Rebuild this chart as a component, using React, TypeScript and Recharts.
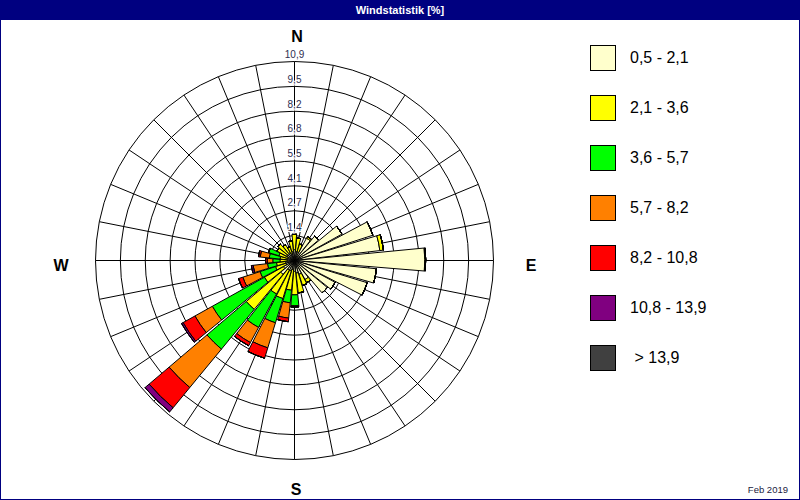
import { RadialBarChart, RadialBar, PolarGrid, PolarAngleAxis, PolarRadiusAxis } from "recharts";

// 32 directions, clockwise from north
const DIRECTIONS = [
  "N", "NzO", "NNO", "NOzN", "NO", "NOzO", "ONO", "OzN",
  "O", "OzS", "OSO", "SOzO", "SO", "SOzS", "SSO", "SzO",
  "S", "SzW", "SSW", "SWzS", "SW", "SWzW", "WSW", "WzS",
  "W", "WzN", "WNW", "NWzW", "NW", "NWzN", "NNW", "NzW",
];

// share of time [%] per speed class
const CLASS_1 = [0.6, 0.5, 0.5, 1.4, 1.75, 3.0, 4.55, 4.75, 7.2, 4.55, 4.2, 2.55, 2.35, 1.2, 0.8, 0.7, 0.6, 0.5, 0.6, 0.6, 1.0, 0.7, 0.5, 0.5, 0.4, 0.4, 0.4, 0.5, 0.5, 0.5, 0.4, 0.5];
const CLASS_2 = [0.85, 0.75, 0.45, 0.1, 0, 0, 0, 0.2, 0.05, 0, 0, 0, 0, 0.2, 0.65, 1.1, 1.3, 1.15, 1.6, 1.5, 2.5, 1.2, 0.6, 0.5, 0.4, 0.4, 0.5, 0.6, 0.7, 0.5, 0.4, 0.6];
const CLASS_3 = [0, 0, 0, 0, 0, 0, 0, 0, 0, 0, 0, 0, 0, 0, 0, 0, 0.6, 0.7, 1.4, 2.1, 2.85, 3.3, 0.9, 0.5, 0.4, 0.6, 0.6, 0, 0, 0, 0, 0];
const CLASS_4 = [0, 0, 0, 0, 0, 0, 0, 0, 0, 0, 0, 0, 0, 0, 0, 0, 0.07, 0.85, 1.45, 0.95, 2.75, 1.1, 1.0, 0.8, 0.3, 0.5, 0, 0, 0, 0, 0, 0];
const CLASS_5 = [0, 0, 0, 0, 0, 0, 0, 0, 0, 0, 0, 0, 0, 0, 0, 0, 0, 0.2, 0.6, 0.2, 1.45, 0.75, 0.25, 0, 0.1, 0.1, 0, 0, 0, 0, 0, 0];
const CLASS_6 = [0, 0, 0, 0, 0, 0, 0, 0, 0, 0, 0, 0, 0, 0, 0, 0, 0, 0, 0, 0, 0.3, 0.1, 0, 0.1, 0, 0, 0, 0, 0, 0, 0, 0];
const CLASS_7 = [0, 0, 0, 0, 0, 0, 0, 0, 0, 0, 0, 0, 0, 0, 0, 0, 0, 0, 0, 0, 0, 0, 0, 0, 0, 0, 0, 0, 0, 0, 0, 0];

const CLASS_LABELS = ["0,5 - 2,1", "2,1 - 3,6", "3,6 - 5,7", "5,7 - 8,2", "8,2 - 10,8", "10,8 - 13,9", " > 13,9"];
const CLASS_COLORS = ["#FFFFCC", "#FFFF00", "#00FF00", "#FF8000", "#FF0000", "#800080", "#404040"];

const RING_TICKS = [1.3625, 2.725, 4.0875, 5.45, 6.8125, 8.175, 9.5375, 10.9];
const RING_LABELS = ["1,4", "2,7", "4,1", "5,5", "6,8", "8,2", "9,5", "10,9"];

const MAX = 10.9;
const CX = 294.5;
const CY = 260.5;
const OUTER = 199;
const SECTOR = 360 / DIRECTIONS.length;

const series = [CLASS_1, CLASS_2, CLASS_3, CLASS_4, CLASS_5, CLASS_6, CLASS_7];

const data = DIRECTIONS.map((dir, i) => {
  const row: Record<string, number | string> = { dir };
  series.forEach((s, k) => {
    row[`c${k}`] = s[i];
  });
  return row;
});

const spokes = DIRECTIONS.map((_d, i) => i * SECTOR);
const rings = RING_TICKS.map((t) => (t / MAX) * OUTER);

const RingTick = (props: any) => {
  const { x, y, payload } = props;
  const idx = RING_TICKS.indexOf(payload.value);
  return (
    <text
      x={x}
      y={y - 5}
      textAnchor="middle"
      fontFamily="Liberation Sans"
      fontSize={10}
      fill="#2e2e50"
      stroke="#fff"
      strokeWidth={2}
      paintOrder="stroke"
    >
      {idx >= 0 ? RING_LABELS[idx] : ""}
    </text>
  );
};

export default function App() {
  // bars are drawn from each band start towards increasing angle, so shift by half a sector
  const start = 90 - SECTOR / 2;
  return (
    <div style={{ position: "absolute", left: 0, top: 0, width: 800, height: 500, background: "#fff", overflow: "hidden" }}>
      <div style={{ position: "absolute", left: 0, top: 0 }}>
        <RadialBarChart
          width={800}
          height={500}
          data={data}
          cx={CX}
          cy={CY}
          innerRadius={0}
          outerRadius={OUTER}
          startAngle={start}
          endAngle={start - 360}
          layout="centric"
          barCategoryGap={0}
          barGap={0}
          margin={{ top: 0, right: 0, bottom: 0, left: 0 }}
        >
          <PolarGrid gridType="circle" polarAngles={spokes} polarRadius={rings} stroke="#000" strokeOpacity={1} />
          <PolarAngleAxis type="category" dataKey="dir" tick={false} axisLine={false} tickLine={false} />
          {series.map((_s, k) => (
            <RadialBar
              key={k}
              dataKey={`c${k}`}
              stackId="wind"
              barSize={SECTOR}
              fill={CLASS_COLORS[k]}
              stroke="#000"
              strokeWidth={1}
              isAnimationActive={false}
            />
          ))}
          <PolarRadiusAxis
            type="number"
            domain={[0, MAX]}
            angle={90}
            ticks={RING_TICKS}
            axisLine={false}
            tickLine={false}
            tick={RingTick}
          />
        </RadialBarChart>
      </div>

      <svg width={800} height={500} style={{ position: "absolute", left: 0, top: 0, pointerEvents: "none" }}>
        <rect x={0} y={0} width={800} height={20} fill="#000080" />
        <text x={400} y={14} textAnchor="middle" fontFamily="Liberation Sans" fontWeight="bold" fontSize={11} fill="#fff">
          Windstatistik [%]
        </text>
        <rect x={0.5} y={0.5} width={799} height={499} fill="none" stroke="#000080" strokeWidth={1} />
        <g fontFamily="Liberation Sans" fontWeight="bold" fontSize={16} fill="#000" textAnchor="middle">
          <text x={297} y={42}>N</text>
          <text x={531} y={271}>E</text>
          <text x={296} y={495}>S</text>
          <text x={61} y={271}>W</text>
        </g>
        <text x={788} y={493} textAnchor="end" fontFamily="Liberation Sans" fontSize={9.5} fill="#1a1a40">
          Feb 2019
        </text>
      </svg>

      {CLASS_LABELS.map((label, k) => (
        <div key={k} style={{ position: "absolute", left: 590, top: 45 + k * 50, height: 26, display: "flex", alignItems: "center" }}>
          <div style={{ width: 24, height: 24, border: "1px solid #000", background: CLASS_COLORS[k] }} />
          <span style={{ marginLeft: 14, fontFamily: "Liberation Sans", fontSize: 16, color: "#000", whiteSpace: "pre" }}>
            {label}
          </span>
        </div>
      ))}
    </div>
  );
}
